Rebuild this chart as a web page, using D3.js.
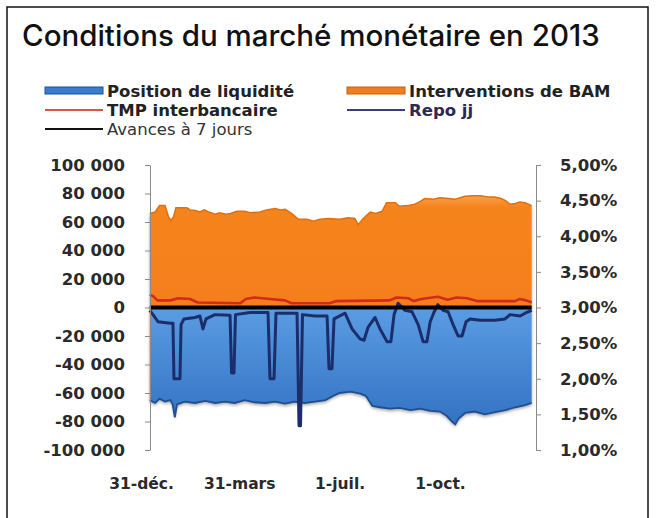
<!DOCTYPE html>
<html><head><meta charset="utf-8">
<script src="https://cdn.jsdelivr.net/npm/d3@7"></script>
<style>body{margin:0;background:#fff} svg{display:block}</style>
</head><body><svg id="c" width="656" height="518"></svg>
<script>
// ---------- data ----------
const xTickDays = [0, 90, 182, 274];              // days after 31 Dec 2012
const xTickLabels = ["31-déc.", "31-mars", "1-juil.", "1-oct."];
const leftTicks = [100000, 80000, 60000, 40000, 20000, 0, -20000, -40000, -60000, -80000, -100000];
const rightTicks = [5, 4.5, 4, 3.5, 3, 2.5, 2, 1.5, 1];

const interDays = [8,13,17,22,25,27.5,30,32,42,45,50,54,58,62,68,72,78,82,88,95,100,109,115,123,128,132,138,144,152,158,164,172,182,190,196,199,203,210,215,221,225,233,237,244,251,256,260,268,274,282,288,297,304,311,318,324,330,334,338,343,347,352,358];
const interValues = [66000,67000,71500,71500,64000,61000,64000,70000,70000,68500,68000,67000,68500,67000,65500,66500,65500,66000,67500,67500,66500,67000,68500,69500,68500,69000,66000,62000,62000,60500,62000,62500,62000,63000,62500,58000,62000,67000,66000,67500,73500,73500,71000,71500,72500,74500,76500,76000,77000,76500,76000,78000,78500,78500,77500,77500,76500,75000,72500,73000,74000,73500,71500];

const liqDays = [8,13,17,22,27,29,31,33,40,49.5,59,68,77,86,95,104,114,123,132,141,150,159.5,169,176,182,192,201,206,212,219,228,237,247,256,265,274,280,285,288,291,297,306,315,324.5,334,343,352,358];
const liqValues = [-65000,-67000,-64000,-66000,-65000,-68000,-77000,-68000,-66000,-67000,-65500,-67000,-66000,-67000,-65000,-66500,-67000,-66000,-67500,-66000,-67000,-66000,-65000,-62000,-60000,-59000,-60500,-62000,-69000,-70000,-71000,-70500,-72000,-71000,-72500,-73000,-76000,-80000,-82000,-78000,-74000,-73000,-75000,-73500,-72000,-70000,-68500,-67000];

const repoDays = [8,11,15.6,26.6,29.3,30.2,35.7,36.7,39.4,49.5,54,56.8,59.6,67.8,81.6,83,85.2,86.6,99.9,116.4,118.2,121.9,123.7,143,144.8,146.2,148,159.5,170.5,172.3,175,176.9,187,193.4,200.7,204.4,208,214.5,219,225.5,229,231.9,235.6,242,248.4,254,258.5,262,265,268.7,272,276.8,281.4,286,290.6,294.2,297.9,301.6,310.7,324.5,333.6,338.2,347.4,352,358];
const repoValues = [-2000,-5000,-10000,-11000,-11000,-50000,-50000,-12000,-8000,-7000,-6000,-15000,-8000,-5000,-5500,-46000,-46000,-5000,-3500,-3500,-50000,-50000,-4000,-4000,-83000,-83000,-5000,-6000,-6000,-43000,-43000,-8000,-4000,-15000,-22000,-23000,-14000,-7000,-15000,-24000,-24000,-5000,3000,-2000,-3000,-12000,-24000,-24000,-10000,-3000,2000,-2000,-3000,-12000,-20000,-20000,-10000,-8000,-9000,-9000,-8000,-5000,-6000,-4000,-2000];

const tmpDays = [8,11,15,27,34,45,52,91,96,104,118,132,138,173,179,228,234,245,250,257,272,281,289,299,308,343,347,353,358];
const tmpValues = [3.18,3.16,3.10,3.10,3.13,3.12,3.07,3.06,3.12,3.14,3.12,3.10,3.06,3.06,3.09,3.10,3.14,3.13,3.09,3.12,3.15,3.11,3.14,3.13,3.09,3.09,3.12,3.10,3.07];

const avDays = [8, 358];
const avValues = [3.0, 3.0];

// ---------- drawing ----------
const svg = d3.select("#c");
const FONT = "'DejaVu Sans', sans-serif";

svg.append("rect").attr("x", 7).attr("y", 7).attr("width", 641).attr("height", 530)
  .attr("fill", "#fff").attr("stroke", "#111").attr("stroke-width", 1.5);

svg.append("text").attr("x", 22).attr("y", 46)
  .attr("font-family", "Inter, Roboto, sans-serif").attr("font-size", 29.5).attr("font-weight", 500)
  .attr("fill", "#111").text("Conditions du marché monétaire en 2013");

const x = d3.scaleLinear().domain([0, 274]).range([141, 440]);
const yL = d3.scaleLinear().domain([-100000, 100000]).range([450, 165]);
const yR = d3.scaleLinear().domain([1, 5]).range([450, 165]);

const defs = svg.append("defs");
const gb = defs.append("linearGradient").attr("id", "gBlue").attr("x1", 0).attr("y1", 0).attr("x2", 0).attr("y2", 1);
gb.append("stop").attr("offset", "0%").attr("stop-color", "#5a9de3");
gb.append("stop").attr("offset", "100%").attr("stop-color", "#3372c3");
const go = defs.append("linearGradient").attr("id", "gOr").attr("x1", 0).attr("y1", 0).attr("x2", 0).attr("y2", 1);
go.append("stop").attr("offset", "0%").attr("stop-color", "#f7a24a");
go.append("stop").attr("offset", "10%").attr("stop-color", "#f5841f");
go.append("stop").attr("offset", "100%").attr("stop-color", "#f47e1d");
const sh = defs.append("filter").attr("id", "shadow").attr("x", "-5%").attr("y", "-5%").attr("width", "110%").attr("height", "120%");
sh.append("feDropShadow").attr("dx", 0).attr("dy", 2.5).attr("stdDeviation", 1.8).attr("flood-color", "#000").attr("flood-opacity", 0.35);

const inter = interDays.map((d, i) => [d, interValues[i]]);
const liq = liqDays.map((d, i) => [d, liqValues[i]]);
const repo = repoDays.map((d, i) => [d, repoValues[i]]);
const tmp = tmpDays.map((d, i) => [d, tmpValues[i]]);
const av = avDays.map((d, i) => [d, avValues[i]]);

const areaL = d3.area().x(d => x(d[0])).y0(yL(0)).y1(d => yL(d[1]));
const lineL = d3.line().x(d => x(d[0])).y(d => yL(d[1]));
const lineR = d3.line().x(d => x(d[0])).y(d => yR(d[1]));

svg.append("path").datum(inter).attr("d", areaL).attr("fill", "url(#gOr)").attr("filter", "url(#shadow)");
svg.append("path").datum(inter).attr("d", lineL).attr("fill", "none").attr("stroke", "#e0700f").attr("stroke-width", 1.5);
svg.append("path").datum(liq).attr("d", areaL).attr("fill", "url(#gBlue)").attr("filter", "url(#shadow)");
svg.append("path").datum(liq).attr("d", lineL).attr("fill", "none").attr("stroke", "#1f4f8f").attr("stroke-width", 1.8);

svg.append("path").datum(tmp).attr("d", lineR).attr("fill", "none").attr("stroke", "#d42a1c").attr("stroke-width", 2.6).attr("stroke-linejoin", "round");
svg.append("path").datum(repo).attr("d", lineL).attr("fill", "none").attr("stroke", "#1c2d6b").attr("stroke-width", 3).attr("stroke-linejoin", "round");
svg.append("path").datum(av).attr("d", lineR).attr("fill", "none").attr("stroke", "#000").attr("stroke-width", 4);

// axes
const loc = d3.formatLocale({decimal: ",", thousands: " ", grouping: [3], currency: ["", ""], minus: "-"});
const fL = loc.format(",d");
const axL = d3.axisLeft(yL).tickValues(leftTicks).tickFormat(fL).tickSize(5).tickSizeOuter(0).tickPadding(20);
const axR = d3.axisRight(yR).tickValues(rightTicks).tickFormat(d => d.toFixed(2).replace(".", ",") + "%").tickSize(5).tickSizeOuter(0).tickPadding(19);
const gL = svg.append("g").attr("transform", "translate(150,0)").call(axL);
const gR = svg.append("g").attr("transform", "translate(536,0)").call(axR);
[gL, gR].forEach(g => {
  g.select(".domain").attr("stroke", "#8a8a8a");
  g.selectAll(".tick line").attr("stroke", "#8a8a8a");
  g.selectAll("text").attr("font-family", FONT).attr("font-size", 16.5).attr("font-weight", "bold").attr("fill", "#2a2a2a");
});
const axB = d3.axisBottom(x).tickValues(xTickDays).tickFormat((d, i) => xTickLabels[i]).tickSize(0).tickPadding(0);
const gB = svg.append("g").attr("transform", "translate(0,478)").call(axB);
gB.select(".domain").remove();
gB.selectAll("text").attr("font-family", FONT).attr("font-size", 15.5).attr("font-weight", "bold").attr("fill", "#2a2a2a");

// legend
const legend = [
  {label: "Position de liquidité", type: "area", color: "#3a7dd0", edge: "#1f4f8f", x: 45, y: 91, bold: true, tc: "#222"},
  {label: "Interventions de BAM", type: "area", color: "#f07d1e", edge: "#c8620e", x: 347, y: 91, bold: true, tc: "#222"},
  {label: "TMP interbancaire", type: "line", color: "#e0524a", x: 45, y: 110, bold: true, tc: "#222"},
  {label: "Repo jj", type: "line", color: "#3a3f7e", x: 347, y: 110, bold: true, tc: "#2a2a55"},
  {label: "Avances à 7 jours", type: "line", color: "#111", x: 45, y: 129, bold: false, tc: "#333"}
];
const lg = svg.append("g");
legend.forEach(e => {
  if (e.type === "area") {
    lg.append("rect").attr("x", e.x).attr("y", e.y - 4).attr("width", 58).attr("height", 7)
      .attr("fill", e.color).attr("stroke", e.edge).attr("stroke-width", 1);
  } else {
    lg.append("line").attr("x1", e.x).attr("x2", e.x + 58).attr("y1", e.y).attr("y2", e.y)
      .attr("stroke", e.color).attr("stroke-width", 2);
  }
  lg.append("text").attr("x", e.x + 62).attr("y", e.y + 6).attr("font-family", FONT).attr("font-size", 16.5)
    .attr("font-weight", e.bold ? "bold" : "normal").attr("fill", e.tc).text(e.label);
});
</script>
</body></html>
